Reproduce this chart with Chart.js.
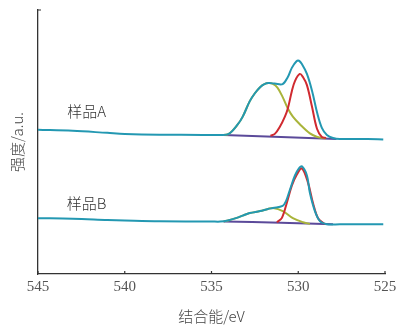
<!DOCTYPE html>
<html>
<head>
<meta charset="utf-8">
<title>O 1s</title>
<script src="https://cdn.jsdelivr.net/npm/chart.js@4.4.1/dist/chart.umd.min.js"></script>
<style>
  html, body { margin: 0; padding: 0; background: #fff; }
  canvas { display: block; }
</style>
</head>
<body>
<canvas id="xpsChart" width="406" height="330"></canvas>
<script>
// binding energy (eV) / intensity (a.u.) pairs

// sample A: measured envelope
const envA = [
    [545.0, 142], [543.0, 141], [541.0, 139], [540.0, 138], [538.0, 137.2],
    [535.5, 137], [534.5, 137], [534.0, 138], [533.5, 147], [533.2, 155],
    [532.8, 170], [532.5, 178], [532.2, 184], [531.95, 187], [531.7, 188],
    [531.35, 187.5], [530.9, 187], [530.6, 194], [530.37, 203], [530.1, 209.5],
    [529.96, 210], [529.8, 207], [529.5, 197], [529.2, 180], [528.9, 158],
    [528.64, 144], [528.35, 137], [528.0, 134], [527.6, 133], [526.0, 133],
    [525.1, 132.5]
];
// sample A: lattice O component
const redA = [
    [531.6, 136], [531.35, 138], [531.06, 145], [530.77, 155], [530.6, 163],
    [530.37, 180], [530.19, 190], [529.91, 197], [529.73, 194], [529.5, 186],
    [529.21, 165], [528.92, 143], [528.64, 135], [528.4, 134]
];
// sample A: surface O component
const greenA = [
    [534.3, 137], [534.0, 138], [533.5, 147], [533.2, 155], [532.8, 170],
    [532.5, 178], [532.2, 184], [531.95, 187], [531.7, 188], [531.46, 187.2],
    [531.2, 183.5], [530.89, 174], [530.6, 163], [530.31, 155], [529.91, 147.5],
    [529.33, 138.5], [528.9, 135], [528.4, 133.5]
];
// sample A: background
const bgA = [[534.3, 137], [531.0, 135], [527.8, 133]];

// sample B: measured envelope
const envB = [
    [545.0, 55], [543.0, 54.5], [541.0, 53.3], [540.0, 52.8], [538.0, 52],
    [535.0, 51.7], [534.5, 51.6], [534.0, 53], [533.5, 55.5], [533.2, 57.5],
    [532.8, 60], [532.2, 62], [531.75, 64], [531.46, 65], [530.9, 67],
    [530.7, 72], [530.48, 83], [530.19, 97], [529.96, 104], [529.79, 106],
    [529.5, 97], [529.33, 80], [529.04, 62], [528.75, 52], [528.35, 49],
    [527.6, 49], [525.1, 49]
];
// sample B: lattice O component
const redB = [
    [531.23, 51], [530.95, 55], [530.66, 70], [530.37, 87], [530.08, 98],
    [529.79, 104], [529.44, 90], [529.15, 70], [528.86, 55], [528.46, 49]
];
// sample B: surface O component
const greenB = [
    [534.3, 51.7], [534.0, 53], [533.5, 55.5], [533.2, 57.5], [532.8, 60],
    [532.2, 62], [531.75, 64], [531.46, 65], [530.89, 62], [530.31, 55],
    [529.73, 51], [529.33, 49.3]
];
// sample B: background
const bgB = [[534.3, 51.7], [531.0, 50.5], [528.0, 49]];

const xTicks = [545, 540, 535, 530, 525];
const sampleLabels = [
    { text: '样品A', x: 542.2, y: 160 },
    { text: '样品B', x: 542.2, y: 70 }
];

const TEAL = '#2398b2';
const RED = '#d02a30';
const OLIVE = '#a9b43a';
const PURPLE = '#5b4a9a';
const AXIS = '#333';
const serif = '"Liberation Serif", "DejaVu Serif", serif';
const cjk = '"Noto Sans CJK SC", sans-serif';

function toPoints(arr) {
    return arr.map(p => ({ x: p[0], y: p[1] }));
}

function line(data, color) {
    return {
        data: toPoints(data),
        borderColor: color,
        borderWidth: 2,
        pointRadius: 0,
        showLine: true,
        tension: 0.35,
        fill: false
    };
}

// inward tick marks + sample names
const decorations = {
    id: 'decorations',
    afterDraw(chart) {
        const { ctx, chartArea, scales } = chart;
        ctx.save();
        ctx.strokeStyle = AXIS;
        ctx.lineWidth = 1.2;
        ctx.beginPath();
        xTicks.forEach(v => {
            const px = scales.x.getPixelForValue(v);
            ctx.moveTo(px, chartArea.bottom);
            ctx.lineTo(px, chartArea.bottom - 3);
        });
        ctx.moveTo(chartArea.left, chartArea.top);
        ctx.lineTo(chartArea.left + 3, chartArea.top);
        ctx.stroke();

        ctx.fillStyle = '#333';
        ctx.font = '300 15px ' + cjk;
        ctx.textAlign = 'center';
        ctx.textBaseline = 'middle';
        sampleLabels.forEach(l => {
            ctx.fillText(l.text, scales.x.getPixelForValue(l.x), scales.y.getPixelForValue(l.y));
        });
        ctx.restore();
    }
};

// first dataset is painted on top, so envelopes go first
new Chart(document.getElementById('xpsChart'), {
    type: 'scatter',
    data: {
        datasets: [
            line(envA, TEAL), line(redA, RED), line(greenA, OLIVE), line(bgA, PURPLE),
            line(envB, TEAL), line(redB, RED), line(greenB, OLIVE), line(bgB, PURPLE)
        ]
    },
    options: {
        responsive: false,
        animation: false,
        layout: { padding: { top: 10, right: 21, left: 8, bottom: 5 } },
        plugins: {
            legend: { display: false },
            tooltip: { enabled: false }
        },
        scales: {
            x: {
                type: 'linear',
                reverse: true,
                min: 525,
                max: 545,
                afterBuildTicks(scale) {
                    scale.ticks = xTicks.map(v => ({ value: v }));
                },
                ticks: {
                    color: '#555',
                    font: { family: serif, size: 15 },
                    padding: 4
                },
                grid: { display: false, drawTicks: false },
                border: { display: true, color: AXIS, width: 1.3 },
                title: {
                    display: true,
                    text: '结合能/eV',
                    color: '#444',
                    font: { family: cjk, size: 15, weight: 300 },
                    padding: { top: 7, bottom: 0 }
                }
            },
            y: {
                min: 0,
                max: 260,
                ticks: { display: false },
                grid: { display: false, drawTicks: false },
                border: { display: true, color: AXIS, width: 1.3 },
                title: {
                    display: true,
                    text: '强度/a.u.',
                    color: '#444',
                    font: { family: cjk, size: 15, weight: 300 },
                    padding: { top: 0, bottom: 12 }
                }
            }
        }
    },
    plugins: [decorations]
});
</script>
</body>
</html>
